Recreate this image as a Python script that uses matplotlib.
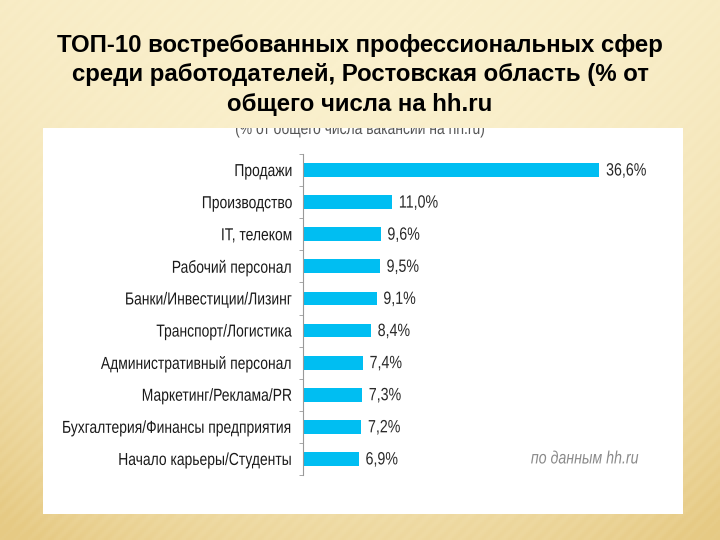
import matplotlib.pyplot as plt
import numpy as np
from matplotlib.patches import Rectangle
from matplotlib.patheffects import AbstractPathEffect
from matplotlib.transforms import Affine2D

categories = ["Продажи", "Производство", "IT, телеком", "Рабочий персонал",
              "Банки/Инвестиции/Лизинг", "Транспорт/Логистика",
              "Административный персонал", "Маркетинг/Реклама/PR",
              "Бухгалтерия/Финансы предприятия", "Начало карьеры/Студенты"]
values = [36.6, 11.0, 9.6, 9.5, 9.1, 8.4, 7.4, 7.3, 7.2, 6.9]
value_labels = ["36,6%", "11,0%", "9,6%", "9,5%", "9,1%", "8,4%", "7,4%", "7,3%", "7,2%", "6,9%"]

title = "ТОП-10 востребованных профессиональных сфер\nсреди работодателей, Ростовская область (% от\nобщего числа на hh.ru"
subtitle = "(% от общего числа вакансий на hh.ru)"
source_note = "по данным hh.ru"

font = "Liberation Sans"


class Squeeze(AbstractPathEffect):
    # narrow the glyphs horizontally (no condensed font installed)
    def __init__(self, sx=0.8, anchor="right"):
        super().__init__()
        self.sx = sx
        self.anchor = anchor

    def draw_path(self, renderer, gc, tpath, affine, rgbFace=None):
        ext = tpath.get_extents()
        if self.anchor == "right":
            x0 = ext.x1
        elif self.anchor == "left":
            x0 = ext.x0
        else:
            x0 = (ext.x0 + ext.x1) / 2
        t = Affine2D().translate(-x0, 0).scale(self.sx, 1).translate(x0, 0)
        renderer.draw_path(gc, tpath, t + affine, rgbFace)


W, H = 720, 540
fig = plt.figure(figsize=(W / 100, H / 100), dpi=100)

# beige slide background
bg = fig.add_axes([0, 0, 1, 1])
yy, xx = np.mgrid[0:1:270j, 0:1:360j]
light = np.array([250, 240, 205]) / 255
dark = np.array([230, 202, 132]) / 255
t = np.clip(0.6 * yy ** 2.5 + 0.35 * np.abs(xx - 0.5) ** 2 * 4 * (0.3 + yy), 0, 1)
stripes = 0.04 * np.sin((xx * 360 + yy * 270) * 0.9)
t = np.clip(t + stripes * (0.3 + t), 0, 1)
img = light[None, None, :] * (1 - t[..., None]) + dark[None, None, :] * t[..., None]
bg.imshow(img, extent=[0, 1, 0, 1], aspect="auto", origin="upper")
bg.set_xlim(0, 1)
bg.set_ylim(0, 1)
bg.axis("off")

fig.text(0.5, 1 - 75 / H, title, ha="center", va="center", fontsize=17.3,
         fontweight="bold", family=font, linespacing=1.36, color="black")

# white panel
px0, py0, px1, py1 = 43, 128, 683, 514
panel = fig.add_axes([px0 / W, 1 - py1 / H, (px1 - px0) / W, (py1 - py0) / H])
panel.set_xlim(px0, px1)
panel.set_ylim(py1, py0)
panel.axis("off")
panel.add_patch(Rectangle((px0, py0), px1 - px0, py1 - py0, color="white", zorder=0))
panel.text(361, 134, subtitle, ha="center", va="baseline", fontsize=12.5,
           family=font, color="#555555", clip_on=True,
           path_effects=[Squeeze(0.8, "center")])

# bar chart
ax0, ax1, ay0, ay1 = 303, 683, 154, 475
scale = 8.1
ax = fig.add_axes([ax0 / W, 1 - ay1 / H, (ax1 - ax0) / W, (ay1 - ay0) / H])
ax.patch.set_alpha(0)
y = np.arange(len(categories))
ax.barh(y, values, height=0.43, color="#00BEF2", zorder=2)
ax.set_xlim(0, (ax1 - ax0) / scale)
ax.set_ylim(len(categories) - 0.5, -0.5)
for i, (v, lab) in enumerate(zip(values, value_labels)):
    ax.text(v + 0.8, i + 0.03, lab, va="center", ha="left", fontsize=12.8,
            family=font, color="#2a2a2a", path_effects=[Squeeze(0.8, "left")])
ax.set_yticks(y)
ax.set_yticklabels(categories, family=font, fontsize=12.5, color="#1a1a1a")
for lab in ax.get_yticklabels():
    lab.set_path_effects([Squeeze(0.8, "right")])
ax.set_yticks(np.arange(-0.5, len(categories)), minor=True)
ax.tick_params(axis="y", which="major", length=0, pad=7.5)
ax.tick_params(axis="y", which="minor", length=3, color="#999999", direction="out")
ax.set_xticks([])
for s in ["top", "right", "bottom"]:
    ax.spines[s].set_visible(False)
ax.spines["left"].set_color("#999999")
ax.spines["left"].set_linewidth(0.8)
ax.text((638 - ax0) / scale, 9, source_note, ha="right", va="center",
        fontsize=12.8, style="italic", family=font, color="#8a8a8a",
        path_effects=[Squeeze(0.8, "right")])

fig.savefig("out.png", dpi=100)
